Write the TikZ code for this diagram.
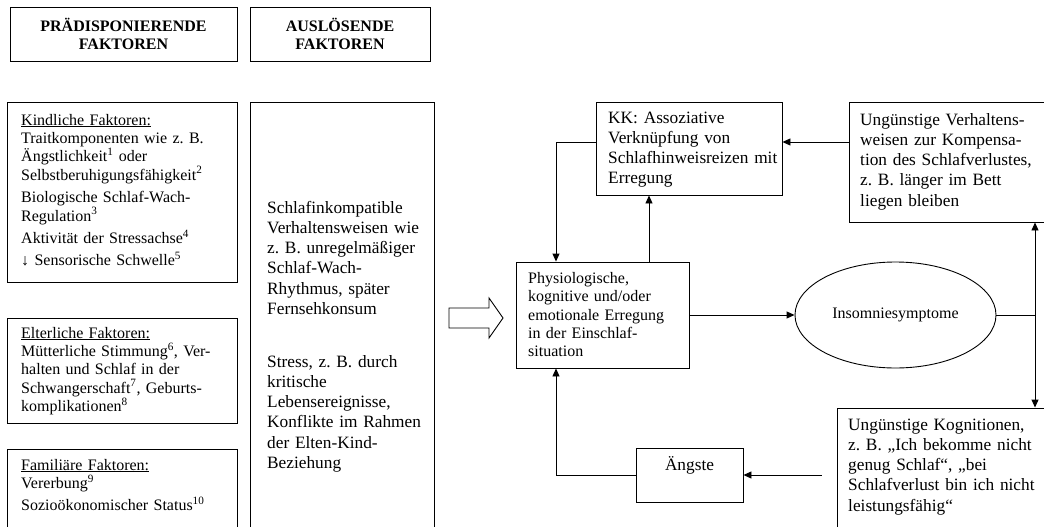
\documentclass[tikz,border=0pt]{standalone}
\usepackage{fontspec}
\setmainfont{Liberation Serif}
\usetikzlibrary{arrows.meta,shapes.geometric}
\frenchspacing

\tikzset{
  frame/.style={draw=black, line width=0.9pt, rectangle, inner sep=0pt},
  head/.style={frame, align=center, font=\fontsize{16}{18.4}\selectfont\bfseries},
  conn/.style={line width=0.9pt},
  arr/.style={conn, -{Triangle[length=8pt,width=7pt]}},
  txtS/.style={anchor=base west, inner sep=0pt, align=left, text width=#1,
               font=\fontsize{16}{18.4}\selectfont},
  txtL/.style={anchor=base west, inner sep=0pt, align=left, text width=#1,
               font=\fontsize{17.3}{20.3}\selectfont},
}

\begin{document}
\begin{tikzpicture}[x=1pt,y=-1pt]
\path[use as bounding box] (0,0) rectangle (1044,527);
\clip (0,0) rectangle (1044,527);

% column headings
\node[head, minimum width=227pt, minimum height=54pt] (h1) at (123.5,34) {PRÄDISPONIERENDE\\FAKTOREN};
\node[head, minimum width=180pt, minimum height=54pt] (h2) at (340,34) {AUSLÖSENDE\\FAKTOREN};

% predisposing factors
\node[frame, minimum width=230pt, minimum height=180pt] (kind) at (122,192) {};
\node[txtS=215pt] (kindT) at (21,125) {\underline{Kindliche Faktoren:}\\
Traitkomponenten wie z. B.\\
Ängstlichkeit\textsuperscript{1} oder\\
Selbstberuhigungsfähigkeit\textsuperscript{2}\\[4pt]
Biologische Schlaf-Wach-\\
Regulation\textsuperscript{3}\\[4pt]
Aktivität der Stressachse\textsuperscript{4}\\[4pt]
↓ Sensorische Schwelle\textsuperscript{5}};

\node[frame, minimum width=230pt, minimum height=105pt] (elt) at (122,370.5) {};
\node[txtS=215pt] (eltT) at (21,338) {\underline{Elterliche Faktoren:}\\
Mütterliche Stimmung\textsuperscript{6}, Ver-\\
halten und Schlaf in der\\
Schwangerschaft\textsuperscript{7}, Geburts-\\
komplikationen\textsuperscript{8}};

\node[frame, minimum width=230pt, minimum height=111pt] (fam) at (122,504.5) {};
\node[txtS=215pt] (famT) at (21,470) {\underline{Familiäre Faktoren:}\\
Vererbung\textsuperscript{9}\\[4pt]
Sozioökonomischer Status\textsuperscript{10}};

% triggering factors
\node[frame, minimum width=184pt, minimum height=458pt] (mid) at (342,331) {};
\node[txtL=165pt] (midA) at (267,213) {Schlafinkompatible\\
Verhaltensweisen wie\\
z. B. unregelmäßiger\\
Schlaf-Wach-\\
Rhythmus, später\\
Fernsehkonsum};
\node[txtL=165pt] (midB) at (267,367) {Stress, z. B. durch\\
kritische\\
Lebensereignisse,\\
Konflikte im Rahmen\\
der Elten-Kind-\\
Beziehung};

% hollow block arrow into the cycle
\draw[conn, line join=miter] (449,308) -- (489,308) -- (489,298) -- (503,318)
  -- (489,338) -- (489,328) -- (449,328) -- cycle;

% maintaining cycle
\node[frame, minimum width=186pt, minimum height=93pt] (kk) at (689,148.5) {};
\node[txtL=176pt] (kkT) at (608,123) {KK: Assoziative\\
Verknüpfung von\\
Schlafhinweisreizen mit\\
Erregung};

\node[frame, minimum width=211pt, minimum height=120pt] (verh) at (954.5,162) {};
\node[txtL=190pt] (verhT) at (860,125) {Ungünstige Verhaltens-\\
weisen zur Kompensa-\\
tion des Schlafverlustes,\\
z. B. länger im Bett\\
liegen bleiben};

\node[frame, minimum width=173pt, minimum height=106pt] (phys) at (602.5,315) {};
\node[txtS=160pt] (physT) at (528,283.2) {Physiologische,\\
kognitive und/oder\\
emotionale Erregung\\
in der Einschlaf-\\
situation};

\node[draw=black, line width=0.9pt, ellipse, inner sep=0pt, minimum width=201pt,
      minimum height=106pt, font=\fontsize{16}{18.4}\selectfont] (ins) at (895.5,315) {Insomniesymptome};

\node[frame, minimum width=223pt, minimum height=152pt] (kog) at (948.5,484) {};
\node[txtL=200pt] (kogT) at (848,430) {Ungünstige Kognitionen,\\
z. B. „Ich bekomme nicht\\
genug Schlaf“, „bei\\
Schlafverlust bin ich nicht\\
leistungsfähig“};

\node[frame, minimum width=107pt, minimum height=54pt] (angst) at (689.5,475) {};
\node[anchor=base, inner sep=0pt, font=\fontsize{17.3}{20.3}\selectfont] (angstT) at (689.5,470) {Ängste};

% routing helpers
\coordinate (yk) at (0,142);
\coordinate (xl) at (556,0);
\coordinate (xm) at (649,0);
\coordinate (j) at (1035,315);

% connectors
\draw[arr] (verh.west |- yk) -- (kk.east |- yk);
\draw[arr] (kk.west |- yk) -- (xl |- yk) -- (xl |- phys.north);
\draw[arr] (xm |- phys.north) -- (xm |- kk.south);
\draw[arr] (phys.east) -- (ins.west);
\draw[conn] (ins.east) -- (j);
\draw[arr] (j) -- (j |- verh.south);
\draw[arr] (j) -- (j |- kog.north);
\draw[arr, shorten <=15pt] (kog.west |- angst.east) -- (angst.east);
\draw[arr] (angst.west) -- (xl |- angst.west) -- (xl |- phys.south);
\end{tikzpicture}
\end{document}
